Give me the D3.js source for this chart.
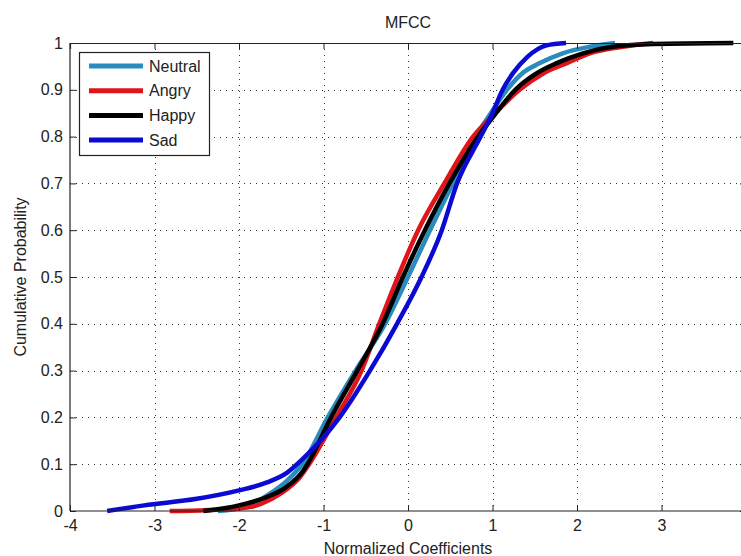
<!DOCTYPE html>
<html>
<head>
<meta charset="utf-8">
<script src="https://cdn.jsdelivr.net/npm/d3@7"></script>
<style>
  body { margin: 0; background: #fff; }
  svg { display: block; font-family: "Liberation Sans", Arial, sans-serif; }
</style>
</head>
<body>
<div id="chart"></div>
<script>
// ECDF readings: x value at each cumulative probability
const neutralX = [-2.25, -1.9, -1.67, -1.43, -1.25, -0.95, -0.62, -0.27, 0.0, 0.26, 0.53, 0.8, 0.98, 1.17, 1.35, 1.56, 1.83, 2.15, 2.45];
const neutralP = [0, 0.01, 0.033, 0.065, 0.1, 0.2, 0.3, 0.4, 0.5, 0.6, 0.7, 0.8, 0.85, 0.9, 0.935, 0.957, 0.978, 0.992, 1];

const angryX = [-2.82, -2.02, -1.74, -1.51, -1.28, -1.17, -0.85, -0.55, -0.34, -0.12, 0.12, 0.43, 0.77, 1.03, 1.32, 1.6, 1.88, 2.15, 2.54, 2.9];
const angryP = [0, 0.005, 0.015, 0.037, 0.072, 0.1, 0.2, 0.3, 0.4, 0.5, 0.6, 0.7, 0.8, 0.85, 0.9, 0.935, 0.957, 0.978, 0.992, 1];

const happyX = [-2.42, -2.0, -1.67, -1.45, -1.24, -1.19, -0.91, -0.6, -0.3, -0.06, 0.2, 0.49, 0.83, 1.04, 1.27, 1.52, 1.76, 2.07, 2.42, 2.9, 3.85];
const happyP = [0, 0.012, 0.03, 0.05, 0.086, 0.1, 0.2, 0.3, 0.4, 0.5, 0.6, 0.7, 0.8, 0.85, 0.9, 0.935, 0.957, 0.978, 0.992, 0.998, 1];

const sadX = [-3.56, -3.12, -2.5, -2.0, -1.67, -1.43, -1.27, -0.81, -0.45, -0.13, 0.16, 0.4, 0.58, 0.86, 1.0, 1.12, 1.24, 1.41, 1.64, 1.87];
const sadP = [0, 0.012, 0.026, 0.044, 0.061, 0.082, 0.107, 0.2, 0.3, 0.4, 0.5, 0.6, 0.7, 0.8, 0.85, 0.9, 0.935, 0.97, 0.995, 1];

const seriesNames = ["Neutral", "Angry", "Happy", "Sad"];
const seriesColors = ["#2a8bbd", "#e0141a", "#000000", "#0a0ad2"];
const xTicks = [-4, -3, -2, -1, 0, 1, 2, 3, 4];
const yTicks = [0, 0.1, 0.2, 0.3, 0.4, 0.5, 0.6, 0.7, 0.8, 0.9, 1];

const series = [
  { name: seriesNames[0], color: seriesColors[0], pts: neutralX.map((x, i) => [x, neutralP[i]]) },
  { name: seriesNames[1], color: seriesColors[1], pts: angryX.map((x, i) => [x, angryP[i]]) },
  { name: seriesNames[2], color: seriesColors[2], pts: happyX.map((x, i) => [x, happyP[i]]) },
  { name: seriesNames[3], color: seriesColors[3], pts: sadX.map((x, i) => [x, sadP[i]]) }
];

const width = 741, height = 556;
const mLeft = 70, mTop = 43, mRight = 746, mBottom = 511;

const svg = d3.select("#chart").append("svg")
  .attr("width", width)
  .attr("height", height);

const x = d3.scaleLinear().domain([-4, 4]).range([mLeft, mRight]);
const y = d3.scaleLinear().domain([0, 1]).range([mBottom, mTop]);

// grid
const grid = svg.append("g")
  .attr("stroke", "#333")
  .attr("stroke-width", 1)
  .attr("stroke-dasharray", "1,5");
grid.selectAll(".vg")
  .data(xTicks.slice(1, -1))
  .enter().append("line")
  .attr("x1", d => Math.round(x(d)) + 0.5).attr("x2", d => Math.round(x(d)) + 0.5)
  .attr("y1", mTop).attr("y2", mBottom);
grid.selectAll(".hg")
  .data(yTicks.slice(1, -1))
  .enter().append("line")
  .attr("y1", d => Math.round(y(d)) + 0.5).attr("y2", d => Math.round(y(d)) + 0.5)
  .attr("x1", mLeft).attr("x2", mRight);

// lines
const line = d3.line()
  .x(d => x(d[0]))
  .y(d => y(d[1]))
  .curve(d3.curveMonotoneX);

svg.append("g").selectAll("path")
  .data(series)
  .enter().append("path")
  .attr("fill", "none")
  .attr("stroke", d => d.color)
  .attr("stroke-width", 4.5)
  .attr("stroke-linejoin", "round")
  .attr("d", d => line(d.pts));

// axes (ticks pointing inward), plain hyphen minus like matlab
const fmt = d => String(d);
const xAxis = svg.append("g")
  .attr("transform", `translate(0,${mBottom})`)
  .call(d3.axisBottom(x).tickValues(xTicks).tickSize(-6).tickPadding(9).tickFormat(fmt));
const xTop = svg.append("g")
  .attr("transform", `translate(0,${mTop})`)
  .call(d3.axisTop(x).tickValues(xTicks).tickSize(-6).tickFormat(""));
const yAxis = svg.append("g")
  .attr("transform", `translate(${mLeft},0)`)
  .call(d3.axisLeft(y).tickValues(yTicks).tickSize(-6).tickPadding(7).tickFormat(fmt));
const yRight = svg.append("g")
  .attr("transform", `translate(${mRight},0)`)
  .call(d3.axisRight(y).tickValues(yTicks).tickSize(-6).tickFormat(""));

[xAxis, xTop, yAxis, yRight].forEach(a => {
  a.selectAll("path").attr("stroke", "#222").attr("stroke-width", 1.2);
  a.selectAll("line").attr("stroke", "#222");
  a.selectAll("text").attr("font-size", 16).attr("fill", "#222")
    .attr("font-family", "'Liberation Sans', Arial, sans-serif");
});
xAxis.select(".domain").attr("d", `M${mLeft},0H${mRight}`);
yAxis.select(".domain").attr("d", `M0,${mTop}V${mBottom}`);

// title and labels
svg.append("text")
  .attr("x", (mLeft + mRight) / 2)
  .attr("y", 28)
  .attr("text-anchor", "middle")
  .attr("font-size", 16)
  .attr("fill", "#222")
  .text("MFCC");

svg.append("text")
  .attr("x", (mLeft + mRight) / 2)
  .attr("y", 554)
  .attr("text-anchor", "middle")
  .attr("font-size", 16)
  .attr("fill", "#222")
  .text("Normalized Coefficients");

svg.append("text")
  .attr("transform", `translate(26,${(mTop + mBottom) / 2}) rotate(-90)`)
  .attr("text-anchor", "middle")
  .attr("font-size", 16)
  .attr("fill", "#222")
  .text("Cumulative Probability");

// legend
const legend = svg.append("g");
legend.append("rect")
  .attr("x", 79.5).attr("y", 52.5)
  .attr("width", 130).attr("height", 103)
  .attr("fill", "#fff")
  .attr("stroke", "#222")
  .attr("stroke-width", 1.2);

const item = legend.selectAll(".item")
  .data(series)
  .enter().append("g")
  .attr("transform", (d, i) => `translate(0,${66 + i * 24.7})`);
item.append("line")
  .attr("x1", 89).attr("x2", 143)
  .attr("stroke", d => d.color)
  .attr("stroke-width", 5);
item.append("text")
  .attr("x", 149)
  .attr("dy", "0.35em")
  .attr("font-size", 16)
  .attr("fill", "#222")
  .text(d => d.name);
</script>
</body>
</html>
